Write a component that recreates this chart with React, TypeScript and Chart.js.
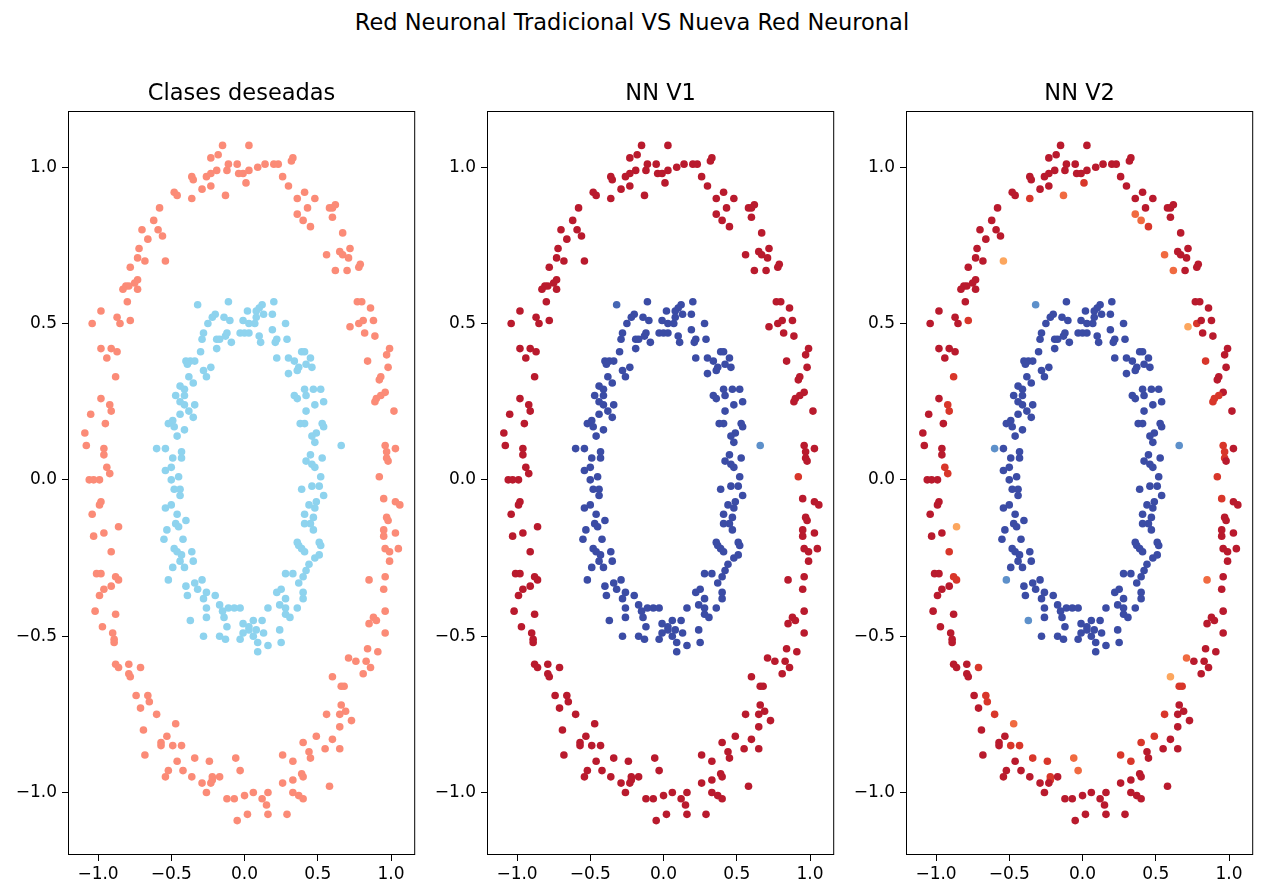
import React, { useEffect, useRef } from 'react';
import { Chart, registerables } from 'chart.js';

Chart.register(...registerables);

const FONT = '"DejaVu Sans", Verdana, sans-serif';

const suptitle = 'Red Neuronal Tradicional VS Nueva Red Neuronal';
const panelTitles = ['Clases deseadas', 'NN V1', 'NN V2'];
const tickValues = [-1, -0.5, 0, 0.5, 1];
const X_MIN = -1.205;
const X_MAX = 1.165;
const Y_MIN = -1.2;
const Y_MAX = 1.18;

// Outer ring (clase 1)
const outerX = [
  -0.15, 0.03, -0.23, -0.18, -0.05, -0.11, -0.12, 0.14, 0.09, 0.20,
  0.23, 0.33, 0.32, -0.04, 0.03, -0.01, 0.01, -0.19, -0.23, -0.26,
  -0.36, -0.35, -0.29, -0.23, -0.13, -0.36, -0.48, -0.46, 0.26, 0.30,
  0.41, 0.48, 0.36, 0.43, 0.36, 0.40, 0.45, 0.58, 0.60, 0.62,
  0.60, -0.58, -0.62, -0.70, -0.59, -0.56, -0.66, -0.72, -0.73, -0.68,
  -0.54, -0.78, -0.73, -0.75, -0.79, -0.81, -0.83, -0.73, -0.80, -0.98,
  -1.04, -0.87, -0.85, -0.78, 0.67, 0.72, 0.65, 0.67, 0.71, 0.56,
  0.62, 0.70, 0.79, 0.78, 0.77, 0.80, 0.86, 0.78, 0.81, 0.88,
  0.82, 0.72, 0.89, 0.99, 0.97, 0.84, 0.98, 0.93, 0.92, 0.96,
  0.93, 0.90, 0.89, 1.02, -0.98, -0.91, -0.87, -0.94, -0.88, -0.98,
  -0.92, -0.91, -1.05, -0.95, -1.09, -1.08, -0.96, -0.96, 0.96, 0.97,
  1.03, 0.97, 0.98, -0.94, -0.92, -1.06, -0.99, -1.03, 0.92,
  -0.98, -0.99, -1.04, -0.86, -1.03, -0.96, -0.91, -1.01, -0.98, -0.88,
  -0.86, -0.96, -0.91, -0.99, -1.02, -0.88, -0.97, -0.90, -0.89, -0.89,
  -0.88, -0.86, -0.79, -0.71, -0.79, -0.78, -0.74, -0.66, -0.65, -0.71,
  -0.60, -0.47, -0.69, -0.53, -0.57, -0.57, -0.49, -0.43, -0.68, -0.46,
  -0.34, -0.24, -0.06, -0.03, -0.42, -0.36, -0.52, -0.54, -0.22, -0.22,
  -0.17, -0.29, -0.23, -0.26, -0.12, -0.07, 0.00, 0.06, 0.16, 0.12,
  0.15, 0.02, 0.16, -0.05, 0.29, 0.26, 0.33, 0.33, 0.37, 0.40,
  0.39, 0.40, 0.26, 0.33, 0.40, 0.44, 0.45, 0.49, 0.58, 0.55,
  0.65, 0.60, 0.56, 0.65, 0.65, 0.66, 0.69, 0.73, 0.60, 0.66,
  0.68, 0.71, 0.76, 0.81, 0.83, 0.86, 0.84, 0.91, 0.96, 0.85,
  0.88, 0.90, 0.96, 0.95, 0.96, 0.85, 0.99, 0.96, 0.99, 1.05,
  0.95, 0.95, 1.03, 0.97, 0.98, 0.95, 1.03, 1.06,
];
const outerY = [
  1.07, 1.07, 1.03, 1.04, 1.01, 1.01, 0.99, 1.01, 1.00, 1.01,
  1.01, 1.03, 1.02, 0.98, 0.99, 0.98, 0.95, 0.99, 0.98, 0.97,
  0.97, 0.96, 0.93, 0.94, 0.91, 0.90, 0.92, 0.91, 0.97, 0.94,
  0.92, 0.90, 0.90, 0.87, 0.85, 0.83, 0.81, 0.87, 0.87, 0.88,
  0.84, 0.87, 0.83, 0.80, 0.80, 0.78, 0.77, 0.74, 0.71, 0.70,
  0.70, 0.68, 0.64, 0.63, 0.62, 0.62, 0.61, 0.61, 0.57, 0.54,
  0.50, 0.52, 0.50, 0.51, 0.79, 0.74, 0.73, 0.72, 0.71, 0.72,
  0.67, 0.67, 0.69, 0.68, 0.57, 0.57, 0.55, 0.50, 0.51, 0.51,
  0.47, 0.49, 0.46, 0.42, 0.40, 0.38, 0.36, 0.33, 0.32, 0.28,
  0.27, 0.26, 0.25, 0.22, 0.42, 0.42, 0.41, 0.39, 0.33, 0.26,
  0.24, 0.22, 0.21, 0.18, 0.15, 0.11, 0.10, 0.08, 0.11, 0.09,
  0.10, 0.07, 0.06, 0.04, 0.02, 0.00, 0.00, 0.00, 0.01,
  -0.07, -0.08, -0.11, -0.15, -0.18, -0.17, -0.23, -0.30, -0.30, -0.31,
  -0.32, -0.35, -0.34, -0.37, -0.42, -0.43, -0.47, -0.49, -0.51, -0.52,
  -0.59, -0.60, -0.59, -0.60, -0.62, -0.63, -0.69, -0.69, -0.71, -0.73,
  -0.75, -0.78, -0.80, -0.82, -0.84, -0.85, -0.85, -0.85, -0.88, -0.90,
  -0.89, -0.90, -0.89, -0.93, -0.93, -0.95, -0.93, -0.95, -0.95, -0.96,
  -0.95, -0.97, -0.97, -1.00, -1.02, -1.02, -1.01, -1.00, -1.00, -1.02,
  -1.04, -1.07, -1.07, -1.09, -1.07, -0.97, -0.96, -1.00, -1.01, -1.02,
  -0.94, -0.95, -0.88, -0.90, -0.84, -0.87, -0.89, -0.82, -0.98, -0.86,
  -0.86, -0.83, -0.75, -0.79, -0.75, -0.72, -0.74, -0.77, -0.63, -0.66,
  -0.66, -0.57, -0.58, -0.62, -0.58, -0.60, -0.54, -0.55, -0.49, -0.46,
  -0.44, -0.45, -0.42, -0.35, -0.31, -0.32, -0.26, -0.22, -0.23, -0.22,
  -0.16, -0.18, -0.17, -0.12, -0.13, -0.06, -0.07, -0.08,
];

// Inner ring (clase 0)
const innerX = [
  -0.32, -0.11, 0.02, 0.12, 0.20, 0.10, 0.08, 0.19, 0.13, -0.20,
  -0.22, -0.25, -0.14, -0.10, -0.01, 0.08, 0.07, 0.03, -0.03, 0.00,
  0.03, 0.28, -0.28, -0.29, -0.19, -0.17, -0.13, -0.12, -0.09, -0.19,
  0.10, 0.11, 0.19, 0.22, 0.29, 0.21, -0.30, -0.37, -0.40, -0.34,
  -0.39, -0.28, -0.23, -0.26, 0.22, 0.30, 0.34, 0.39, 0.41, 0.45,
  0.42, 0.46, 0.37, 0.30, 0.36, -0.38, -0.44, -0.41, -0.35, -0.41,
  -0.47, -0.44, -0.41, -0.34, -0.38, -0.44, -0.49, -0.52, -0.48, -0.35,
  -0.41, -0.46, 0.41, 0.47, 0.52, 0.42, 0.34, 0.36, 0.48, 0.54,
  0.42, 0.41, 0.38, 0.53, 0.54, 0.49, 0.46, 0.48, 0.66, -0.60,
  -0.54, -0.43, -0.43, -0.49, 0.45, 0.42, 0.53, 0.46, 0.48, -0.50,
  -0.54, -0.45, -0.50, 0.52,
  -0.48, -0.44, -0.44, -0.50, -0.54, -0.46, -0.47, -0.45, -0.40, -0.53,
  -0.55, -0.42, -0.48, -0.46, -0.36, -0.43, -0.35, -0.44, -0.49, -0.41,
  -0.52, -0.29, -0.34, -0.40, -0.32, -0.26, -0.39, -0.28, -0.20, -0.26,
  -0.17, -0.15, -0.11, -0.07, -0.03, -0.37, -0.26, -0.14, -0.12, -0.01,
  0.03, 0.06, 0.12, 0.08, 0.13, -0.01, 0.03, -0.03, 0.06, -0.28,
  -0.17, -0.13, 0.09, 0.09, 0.16, 0.25, 0.24, 0.16, 0.28, 0.31,
  0.28, 0.24, 0.28, 0.22, 0.25, 0.36, 0.40, 0.40, 0.37, 0.40,
  0.28, 0.33, 0.42, 0.44, 0.48, 0.51, 0.41, 0.39, 0.37, 0.36,
  0.51, 0.52, 0.47, 0.45, 0.41, 0.47, 0.41, 0.48, 0.44, 0.49,
  0.54, 0.39, 0.46, 0.51,
];
const innerY = [
  0.56, 0.57, 0.54, 0.56, 0.57, 0.55, 0.54, 0.53, 0.53, 0.53,
  0.52, 0.50, 0.52, 0.51, 0.51, 0.52, 0.50, 0.50, 0.47, 0.47,
  0.47, 0.50, 0.47, 0.45, 0.45, 0.45, 0.46, 0.47, 0.44, 0.42,
  0.46, 0.44, 0.48, 0.45, 0.45, 0.44, 0.41, 0.38, 0.38, 0.38,
  0.37, 0.35, 0.36, 0.33, 0.39, 0.39, 0.38, 0.41, 0.41, 0.39,
  0.37, 0.36, 0.36, 0.34, 0.35, 0.33, 0.30, 0.29, 0.31, 0.27,
  0.27, 0.25, 0.24, 0.24, 0.22, 0.21, 0.19, 0.18, 0.17, 0.20,
  0.16, 0.14, 0.29, 0.29, 0.29, 0.27, 0.27, 0.26, 0.24, 0.25,
  0.22, 0.18, 0.18, 0.18, 0.17, 0.15, 0.14, 0.12, 0.11, 0.10,
  0.10, 0.09, 0.07, 0.07, 0.08, 0.06, 0.07, 0.05, 0.04, 0.04,
  0.03, 0.01, 0.00, 0.01,
  -0.03, -0.03, -0.05, -0.08, -0.09, -0.11, -0.14, -0.15, -0.13, -0.16,
  -0.19, -0.19, -0.22, -0.23, -0.23, -0.24, -0.26, -0.26, -0.28, -0.28,
  -0.32, -0.32, -0.33, -0.34, -0.35, -0.36, -0.37, -0.38, -0.37, -0.41,
  -0.40, -0.42, -0.41, -0.41, -0.41, -0.45, -0.44, -0.44, -0.47, -0.46,
  -0.47, -0.45, -0.45, -0.48, -0.49, -0.49, -0.48, -0.51, -0.50, -0.50,
  -0.50, -0.51, -0.52, -0.55, -0.53, -0.52, -0.48, -0.41, -0.43, -0.44,
  -0.41, -0.40, -0.38, -0.36, -0.35, -0.41, -0.38, -0.36, -0.33, -0.31,
  -0.30, -0.30, -0.29, -0.27, -0.25, -0.24, -0.23, -0.22, -0.21, -0.20,
  -0.20, -0.21, -0.16, -0.14, -0.14, -0.12, -0.11, -0.09, -0.08, -0.07,
  -0.05, -0.03, -0.02, -0.02,
];

// Colour class of every point, per panel (s/k: desired classes; r,o,O,y,b,m,l: network output shades)
const trueOuter = [
  'ssssssssss', 'ssssssssss', 'ssssssssss', 'ssssssssss', 'ssssssssss', 'ssssssssss',
  'ssssssssss', 'ssssssssss', 'ssssssssss', 'ssssssssss', 'ssssssssss', 'sssssssss',
  'ssssssssss', 'ssssssssss', 'ssssssssss', 'ssssssssss', 'ssssssssss', 'ssssssssss',
  'ssssssssss', 'ssssssssss', 'ssssssssss', 'ssssssssss', 'ssssssssss', 'ssssssss',
].join('');
const trueInner = [
  'kkkkkkkkkk', 'kkkkkkkkkk', 'kkkkkkkkkk', 'kkkkkkkkkk', 'kkkkkkkkkk', 'kkkkkkkkkk',
  'kkkkkkkkkk', 'kkkkkkkkkk', 'kkkkkkkkkk', 'kkkkkkkkkk', 'kkkk',
  'kkkkkkkkkk', 'kkkkkkkkkk', 'kkkkkkkkkk', 'kkkkkkkkkk', 'kkkkkkkkkk', 'kkkkkkkkkk',
  'kkkkkkkkkk', 'kkkkkkkkkk', 'kkkkkkkkkk', 'kkkk',
].join('');
const nn1Outer = [
  'rrrrrrrrrr', 'rrrrrrrrrr', 'rrrrrrrrrr', 'rrrrrrrrrr', 'rrrrrrrrrr', 'rrrrrrrrrr',
  'rrrrrrrrrr', 'rrrrrrrrrr', 'rrrrrrrrrr', 'rrrrrrrrrr', 'rrrrrrrrrr', 'rrrrrrrro',
  'rrrrrrrrrr', 'rrrrrrrrrr', 'rrrrrrrrrr', 'rrrrrrrrrr', 'rrrrrrrrrr', 'rrrrrrrrrr',
  'rrrrrrrrrr', 'rrrrrrrrrr', 'rrrrrrrrrr', 'rrrrrrrrrr', 'rrrrrrrrrr', 'rrrrrrrr',
].join('');
const nn1Inner = [
  'mbbbbbbbbb', 'bbbbbbbbbb', 'bbbbbbbbbb', 'bbbbbbbbbb', 'bbbbbbbbbb', 'bbbbbbbbbb',
  'bbbbbbbbbb', 'bbbbbbbbbb', 'bbbbbbbblb', 'bbbbbbbbbb', 'bbbb',
  'bbbbbbbbbb', 'bbbbbbbbbb', 'bbbbbbbbbb', 'bbbbbbbbbb', 'bbbbbbbbbb', 'bbbbbbbbbb',
  'bbbbbbbbbb', 'bbbbbbbbbb', 'bbbbbbbbbb', 'bbbb',
].join('');
const nn2Outer = [
  'rrrrrrrrrr', 'rrrrrrorrr', 'rrrrOorrrr', 'rrrrOOorrr', 'rrrrrrrrrr', 'yrrrrrrrrr',
  'rrrorrrrrO', 'Orrrrrrorr', 'ryrrrorrrr', 'ooorrrrror', 'oorrrrrroo', 'roroorrro',
  'rrryrrorro', 'orrrrrrrrr', 'rrrorrroor', 'oOrrrroorr', 'ooOOrrrroo', 'rrrrrrrrrr',
  'rrrrrrrrrr', 'rrooorrorr', 'rrorrrrryo', 'oOrrrrrrrr', 'rrrrrOrrrr', 'rrrrrorr',
].join('');
const nn2Inner = [
  'lbbbbbbbbb', 'bbbbbbbbbb', 'bbbbbbbbbb', 'bbbbbbbbbb', 'bbbbbbbbbb', 'bbbbbbbbbb',
  'bbbbbbbbbb', 'bbbbbbbbbb', 'bbbbbbbbll', 'bbbbbbbbbb', 'bbbb',
  'bbbbbbbbbb', 'bbbbbbbbbb', 'lbbbbbbbbb', 'bbbbblbbbb', 'bbbbbbbbbb', 'bbbbbbbbbb',
  'bbbbbbbbbb', 'bbbbbbbbbb', 'bbbbbbbbbb', 'bbbb',
].join('');

const palette: Record<string, string> = {
  s: '#fb8b77',
  k: '#8ed3ee',
  r: '#b91a2d',
  o: '#d8362a',
  O: '#f06a40',
  y: '#fca65e',
  b: '#3b4ca5',
  m: '#4566b3',
  l: '#5d90ca',
};

const panels = [
  { title: panelTitles[0], outer: trueOuter, inner: trueInner, left: 0 },
  { title: panelTitles[1], outer: nn1Outer, inner: nn1Inner, left: 419 },
  { title: panelTitles[2], outer: nn2Outer, inner: nn2Inner, left: 838 },
];

const fmt = (v: number) => (v < 0 ? '\u2212' : '') + Math.abs(v).toFixed(1);

function Panel({ title, outer, inner, left }: { title: string; outer: string; inner: string; left: number }) {
  const ref = useRef<HTMLCanvasElement | null>(null);
  useEffect(() => {
    if (!ref.current) return;
    const outerPts = outerX.map((x, i) => ({ x, y: outerY[i] }));
    const innerPts = innerX.map((x, i) => ({ x, y: innerY[i] }));
    const frame = {
      id: 'frameAndTitle',
      afterDraw(chart: any) {
        const { ctx, chartArea: a } = chart;
        ctx.save();
        ctx.strokeStyle = '#000';
        ctx.lineWidth = 1;
        ctx.strokeRect(a.left + 0.5, a.top + 0.5, a.right - a.left - 1, a.bottom - a.top - 1);
        ctx.fillStyle = '#000';
        ctx.font = `22.5px ${FONT}`;
        ctx.textAlign = 'center';
        ctx.textBaseline = 'alphabetic';
        ctx.fillText(title, (a.left + a.right) / 2, a.top - 11);
        ctx.restore();
      },
    };
    const axisCommon = {
      type: 'linear',
      grid: { drawOnChartArea: false, drawTicks: true, tickLength: 6, color: '#000', tickColor: '#000', tickWidth: 1 },
      border: { display: false },
      ticks: {
        font: { family: FONT, size: 17 },
        color: '#000',
        autoSkip: false,
        maxRotation: 0,
        callback: (v: any) => fmt(Number(v)),
      },
      afterBuildTicks: (s: any) => {
        s.ticks = tickValues.map((v) => ({ value: v }));
      },
    };
    const chart = new Chart(ref.current, {
      type: 'scatter',
      data: {
        datasets: [
          {
            data: outerPts,
            pointBackgroundColor: outer.split('').map((c) => palette[c]),
            pointBorderWidth: 0,
            pointRadius: 3.8,
            pointHoverRadius: 3.8,
          },
          {
            data: innerPts,
            pointBackgroundColor: inner.split('').map((c) => palette[c]),
            pointBorderWidth: 0,
            pointRadius: 3.8,
            pointHoverRadius: 3.8,
          },
        ],
      },
      options: {
        responsive: false,
        animation: false,
        events: [],
        layout: { padding: { top: 111, left: 0, right: 2, bottom: 0 } },
        plugins: { legend: { display: false }, tooltip: { enabled: false }, title: { display: false } },
        scales: {
          x: {
            ...axisCommon,
            min: X_MIN,
            max: X_MAX,
            ticks: { ...axisCommon.ticks, padding: 3 },
            afterFit: (s: any) => {
              s.height = 31;
            },
          },
          y: {
            ...axisCommon,
            min: Y_MIN,
            max: Y_MAX,
            ticks: { ...axisCommon.ticks, padding: 5 },
            afterFit: (s: any) => {
              s.width = 68;
            },
          },
        },
      } as any,
      plugins: [frame],
    });
    return () => chart.destroy();
  }, [title, outer, inner]);
  return (
    <canvas
      ref={ref}
      width={419}
      height={886}
      style={{ position: 'absolute', left, top: 0, width: 419, height: 886 }}
    />
  );
}

export default function App() {
  return (
    <div
      style={{
        position: 'absolute',
        left: 0,
        top: 0,
        width: 1264,
        height: 886,
        background: '#fff',
        overflow: 'hidden',
        fontFamily: FONT,
      }}
    >
      <div
        style={{
          position: 'absolute',
          left: 0,
          top: 10,
          width: 1264,
          textAlign: 'center',
          fontSize: 22.5,
          lineHeight: '25px',
          color: '#000',
        }}
      >
        {suptitle}
      </div>
      {panels.map((p) => (
        <Panel key={p.title} title={p.title} outer={p.outer} inner={p.inner} left={p.left} />
      ))}
    </div>
  );
}
